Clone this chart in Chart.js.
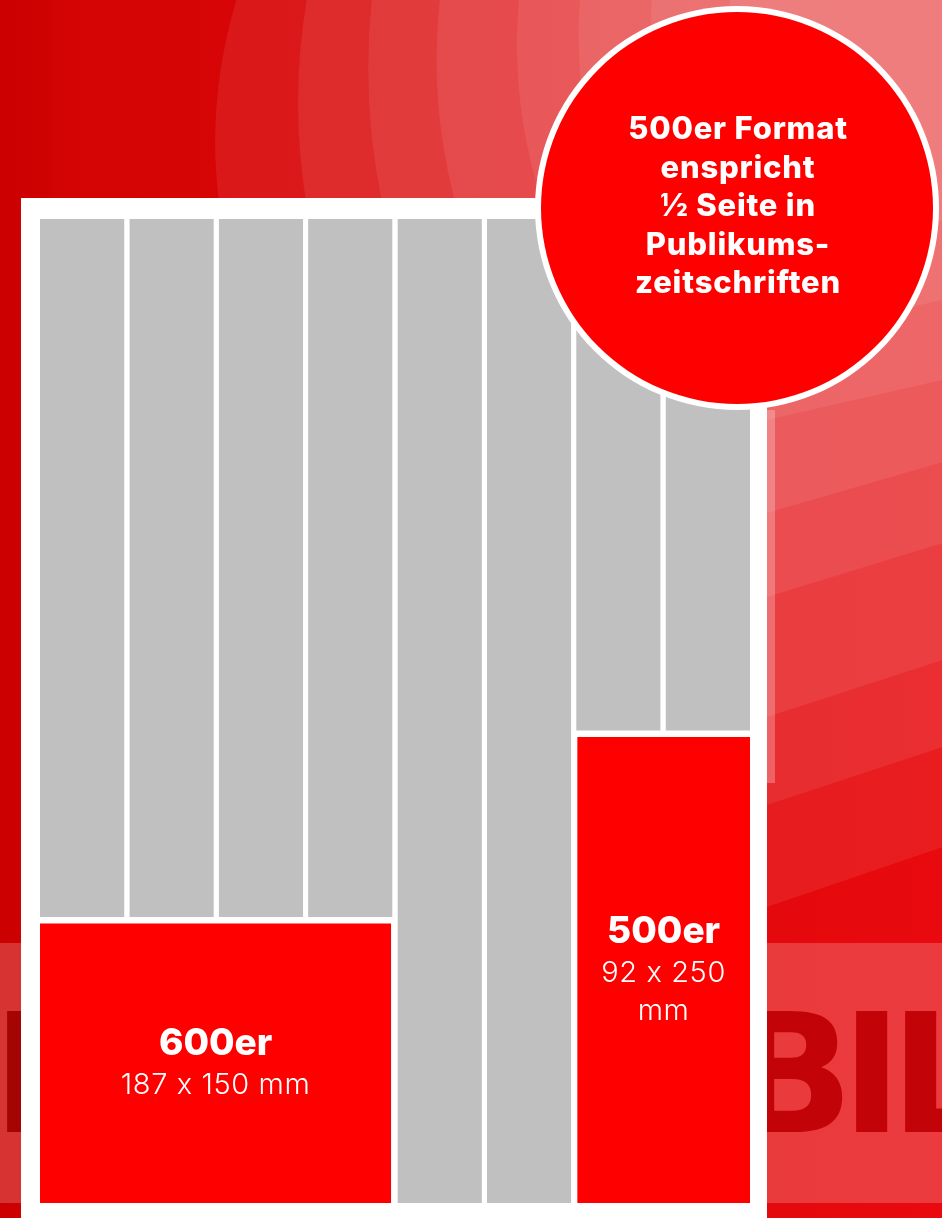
<!DOCTYPE html>
<html lang="de">
<head>
<meta charset="utf-8">
<title>Anzeigenformate</title>
<script src="https://cdn.jsdelivr.net/npm/chart.js@4.4.1/dist/chart.umd.min.js"></script>
<style>
  html, body { margin: 0; padding: 0; background: #cc0000; }
  #wrap { position: relative; width: 942px; height: 1218px; }
</style>
</head>
<body>
<div id="wrap"><canvas id="formatChart"></canvas></div>
<script>
// Page size in mm
const pageWidthMm = 378;
const pageHeightMm = 528;

// Columns of the page
const columnLabels = ['Spalte 1', 'Spalte 2', 'Spalte 3', 'Spalte 4', 'Spalte 5', 'Spalte 6', 'Spalte 7', 'Spalte 8'];

// Ad formats
const adNames = ['600er', '500er'];
const adSizeLabels = ['187 x 150 mm', '92 x 250 mm'];
const adWidthsMm = [187, 92];
const adHeightsMm = [150, 250];
const adFirstColumn = [0, 6];
const adColumnSpan = [4, 2];

// Note in the circle
const noteLines = ['500er Format', 'enspricht', '½ Seite in', 'Publikums-', 'zeitschriften'];

// Colors
const colors = {
    red: '#ff0000',
    grey: '#c0c0c0',
    white: '#ffffff'
};

// Layout helpers (mm)
const columnGapMm = 2.6;
const adGapMm = 3.5;
const columnCount = columnLabels.length;
const columnWidthMm = (pageWidthMm - columnGapMm * (columnCount - 1)) / columnCount;
const columnLeft = c => c * (columnWidthMm + columnGapMm);

function adBox(i) {
    const last = adFirstColumn[i] + adColumnSpan[i] - 1;
    const right = columnLeft(last) + columnWidthMm;
    const x0 = adFirstColumn[i] === 0 ? 0 : right - adWidthsMm[i];
    return {
        x0: x0,
        x1: x0 + adWidthsMm[i],
        y0: pageHeightMm - adHeightsMm[i],
        y1: pageHeightMm
    };
}

function columnBottom(c) {
    for (let i = 0; i < adNames.length; i++) {
        if (c >= adFirstColumn[i] && c < adFirstColumn[i] + adColumnSpan[i]) {
            return pageHeightMm - adHeightsMm[i] - adGapMm;
        }
    }
    return pageHeightMm;
}

// A filled rectangle: a flat line filled down to a value
function rectDataset(label, x0, x1, y0, y1, color) {
    return {
        type: 'line',
        label: label,
        data: [{ x: x0, y: y0 }, { x: x1, y: y0 }],
        fill: { value: y1 },
        backgroundColor: color,
        borderColor: 'transparent',
        borderWidth: 0,
        pointRadius: 0
    };
}

const datasets = [];
columnLabels.forEach((label, c) => {
    const x0 = columnLeft(c);
    datasets.push(rectDataset(label, x0, x0 + columnWidthMm, 0, columnBottom(c), colors.grey));
});
adNames.forEach((name, i) => {
    const b = adBox(i);
    datasets.push(rectDataset(name, b.x0, b.x1, b.y0, b.y1, colors.red));
});

// Red background with waves, band and the white page
const backgroundPlugin = {
    id: 'background',
    beforeDraw(chart) {
        const { ctx, width, height, chartArea } = chart;
        ctx.save();
        const g = ctx.createLinearGradient(0, 0, width, 0);
        g.addColorStop(0, '#cc0000');
        g.addColorStop(0.05, '#cf0202');
        g.addColorStop(0.06, '#d30404');
        g.addColorStop(1, '#e80a0e');
        ctx.fillStyle = g;
        ctx.fillRect(0, 0, width, height);

        // waves: top edge x at y=0/100/200, right edge y at page edge / canvas edge
        const waves = [
            [237, 217, 219, 907, 847],
            [307, 298, 306, 805, 747],
            [372, 369, 382, 717, 660],
            [440, 438, 455, 597, 543],
            [519, 520, 542, 513, 462],
            [580, 583, 608, 420, 380],
            [652, 657, 685, 340, 300],
            [730, 736, 766, 260, 220]
        ];
        const pageRight = chartArea.right + 17;
        ctx.fillStyle = 'rgba(255,255,255,0.08)';
        waves.forEach(([t0, t1, t2, yL, yR]) => {
            ctx.beginPath();
            ctx.moveTo(t0, -2);
            ctx.quadraticCurveTo(2 * t1 - (t0 + t2) / 2, 100, t2, 202);
            ctx.lineTo(pageRight - 4, yL + 1);
            ctx.lineTo(pageRight, yL);
            ctx.lineTo(width + 4, yR - 1);
            ctx.lineTo(width + 4, -2);
            ctx.closePath();
            ctx.fill();
        });

        // faint strip beside the page
        ctx.fillStyle = 'rgba(255,255,255,0.25)';
        ctx.fillRect(pageRight, 410, 8, 373);

        // band with big letters
        ctx.fillStyle = 'rgba(255,255,255,0.2)';
        ctx.fillRect(0, 943, width, 260);
        ctx.font = 'bold 165px "DejaVu Sans"';
        ctx.textBaseline = 'alphabetic';
        ctx.textAlign = 'left';
        const letter = (ch, leftEdge, color) => {
            const m = ctx.measureText(ch);
            ctx.fillStyle = color;
            ctx.fillText(ch, leftEdge + m.actualBoundingBoxLeft, 1132);
        };
        const mB = ctx.measureText('B');
        letter('B', 843 - (mB.actualBoundingBoxRight + mB.actualBoundingBoxLeft), '#c20408');
        letter('I', 856, '#c20408');
        letter('L', 905, '#c20408');
        letter('I', 7, '#a40404');

        // page
        ctx.fillStyle = colors.white;
        ctx.fillRect(chartArea.left - 19, chartArea.top - 21, chartArea.right - chartArea.left + 36, height);
        ctx.restore();
    }
};

// Format names and sizes inside the ads
const adLabelPlugin = {
    id: 'adLabels',
    afterDatasetsDraw(chart) {
        const { ctx, scales: { x, y } } = chart;
        ctx.save();
        ctx.fillStyle = colors.white;
        ctx.textAlign = 'center';
        ctx.textBaseline = 'alphabetic';
        adNames.forEach((name, i) => {
            const b = adBox(i);
            const left = x.getPixelForValue(b.x0);
            const right = x.getPixelForValue(b.x1);
            const top = y.getPixelForValue(b.y0);
            const bottom = y.getPixelForValue(b.y1);
            const cx = (left + right) / 2;
            const maxWidth = right - left - 24;

            ctx.font = '300 29px Inter';
            ctx.letterSpacing = '0.6px';
            const lines = [];
            let current = '';
            adSizeLabels[i].split(' ').forEach(word => {
                const test = current ? current + ' ' + word : word;
                if (current && ctx.measureText(test).width > maxWidth) {
                    lines.push(current);
                    current = word;
                } else {
                    current = test;
                }
            });
            lines.push(current);

            const baselines = [0];
            lines.forEach((l, k) => baselines.push(39 + k * 38));
            const mid = (baselines[0] + baselines[baselines.length - 1]) / 2;
            const base = (top + bottom) / 2 + 11 - mid;

            ctx.letterSpacing = '0px';
            ctx.font = '800 37px Inter';
            ctx.fillText(name, cx, base + baselines[0]);
            ctx.font = '300 29px Inter';
            ctx.letterSpacing = '0.6px';
            lines.forEach((l, k) => ctx.fillText(l, cx, base + baselines[k + 1]));
        });
        ctx.restore();
    }
};

// Circle with the note
const notePlugin = {
    id: 'note',
    afterDraw(chart) {
        const { ctx } = chart;
        const cx = 737, cy = 208;
        ctx.save();
        ctx.beginPath();
        ctx.arc(cx, cy, 202, 0, Math.PI * 2);
        ctx.fillStyle = colors.white;
        ctx.fill();
        ctx.beginPath();
        ctx.arc(cx, cy, 196, 0, Math.PI * 2);
        ctx.fillStyle = colors.red;
        ctx.fill();
        ctx.fillStyle = colors.white;
        ctx.font = '800 31px Inter';
        ctx.letterSpacing = '0.8px';
        ctx.textAlign = 'center';
        ctx.textBaseline = 'alphabetic';
        noteLines.forEach((line, k) => {
            ctx.fillText(line, cx + 1, 139 + k * 38.5);
        });
        ctx.restore();
    }
};

function initFormatChart() {
    new Chart(document.getElementById('formatChart'), {
        type: 'line',
        data: { datasets: datasets },
        options: {
            responsive: true,
            maintainAspectRatio: false,
            animation: false,
            events: [],
            layout: {
                padding: { left: 40, top: 219, right: 192, bottom: 15 }
            },
            scales: {
                x: { type: 'linear', min: 0, max: pageWidthMm, display: false },
                y: { type: 'linear', min: 0, max: pageHeightMm, reverse: true, display: false }
            },
            plugins: {
                legend: { display: false },
                tooltip: { enabled: false }
            }
        },
        plugins: [backgroundPlugin, adLabelPlugin, notePlugin]
    });
}

document.addEventListener('DOMContentLoaded', initFormatChart);
</script>
</body>
</html>
